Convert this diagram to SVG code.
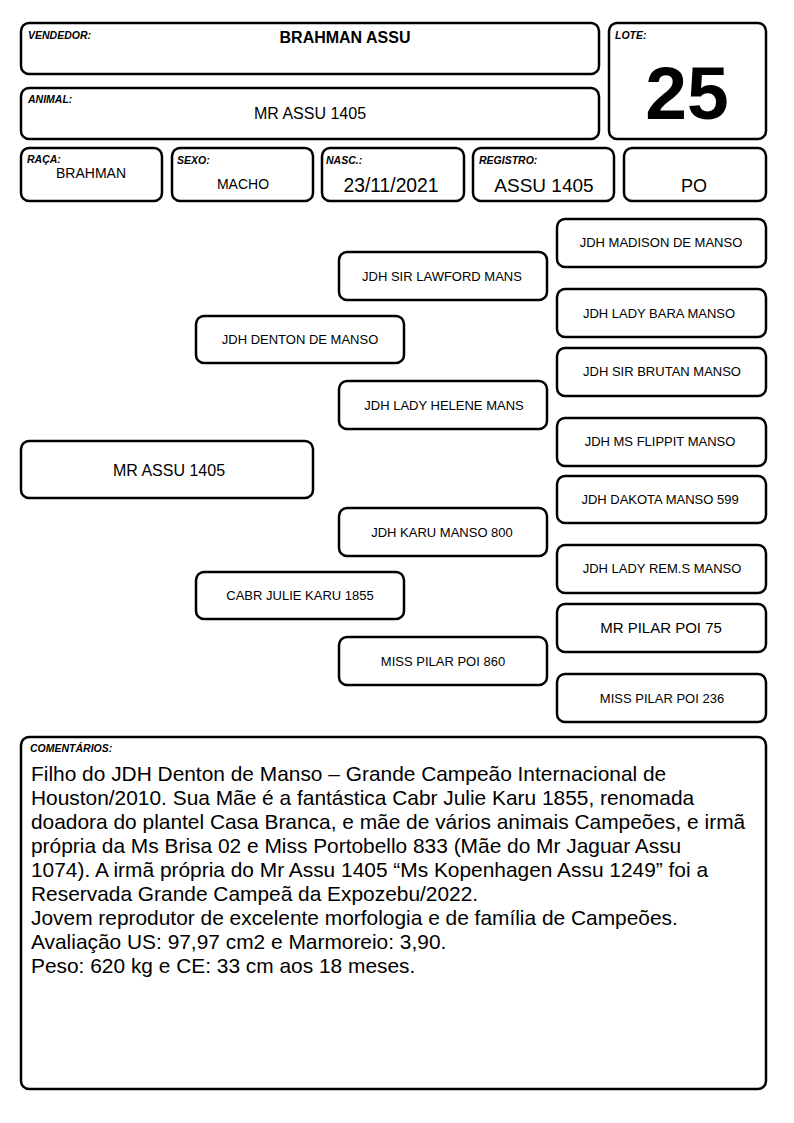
<svg xmlns="http://www.w3.org/2000/svg" width="794" height="1123" viewBox="0 0 794 1123">
<style>
.b{fill:#fff;stroke:#000;stroke-width:2.5}
text{font-family:"Liberation Sans",Arial,sans-serif;fill:#000}
.l{font-size:10.5px;font-weight:bold;font-style:italic}
.c{text-anchor:middle}
.p{font-size:13px;text-anchor:middle}
.m{font-size:20.9px}
</style>
<rect width="794" height="1123" fill="#fff"/>
<g id="vendedor"><rect class="b" x="21" y="23" width="578" height="51" rx="8"/><text class="l" x="28" y="39">VENDEDOR:</text><text class="c" x="345" y="43" style="font-size:16px;font-weight:bold">BRAHMAN ASSU</text></g>
<g id="lote"><rect class="b" x="609" y="23" width="157" height="116" rx="8"/><text class="l" x="615" y="39">LOTE:</text><text class="c" x="687" y="119" style="font-size:75px;font-weight:bold">25</text></g>
<g id="animal"><rect class="b" x="21" y="88" width="578" height="51" rx="8"/><text class="l" x="28" y="103">ANIMAL:</text><text class="c" x="310" y="119" style="font-size:16px">MR ASSU 1405</text></g>
<g id="raca"><rect class="b" x="21" y="148" width="141" height="53" rx="8"/><text class="l" x="27" y="163">RAÇA:</text><text class="c" x="91" y="178" style="font-size:14px">BRAHMAN</text></g>
<g id="sexo"><rect class="b" x="172" y="148" width="141" height="53" rx="8"/><text class="l" x="177" y="164">SEXO:</text><text class="c" x="243" y="189" style="font-size:14px">MACHO</text></g>
<g id="nasc"><rect class="b" x="322" y="148" width="142" height="53" rx="8"/><text class="l" x="326" y="164">NASC.:</text><text class="c" x="391" y="192" style="font-size:19.3px">23/11/2021</text></g>
<g id="registro"><rect class="b" x="473" y="148" width="141" height="53" rx="8"/><text class="l" x="479" y="164">REGISTRO:</text><text class="c" x="544" y="192" style="font-size:19px">ASSU 1405</text></g>
<g id="po"><rect class="b" x="624" y="148" width="142" height="53" rx="8"/><text class="c" x="694" y="192" style="font-size:18px">PO</text></g>
<g id="connectors"></g>
<g id="ped-animal"><rect class="b" x="21" y="441" width="292" height="57" rx="8"/><text class="c" x="169" y="476" style="font-size:16px">MR ASSU 1405</text></g>
<g id="ped-pai"><rect class="b" x="196" y="316" width="208" height="47" rx="8"/><text class="p" x="300" y="344">JDH DENTON DE MANSO</text></g>
<g id="ped-mae"><rect class="b" x="196" y="572" width="208" height="47" rx="8"/><text class="p" x="300" y="600">CABR JULIE KARU 1855</text></g>
<g id="ped-avo1"><rect class="b" x="339" y="252" width="208" height="48" rx="8"/><text class="p" x="442" y="281">JDH SIR LAWFORD MANS</text></g>
<g id="ped-avo2"><rect class="b" x="339" y="381" width="208" height="48" rx="8"/><text class="p" x="444" y="410">JDH LADY HELENE MANS</text></g>
<g id="ped-avo3"><rect class="b" x="339" y="508" width="208" height="48" rx="8"/><text class="p" x="442" y="537">JDH KARU MANSO 800</text></g>
<g id="ped-avo4"><rect class="b" x="339" y="637" width="208" height="48" rx="8"/><text class="p" x="443" y="666">MISS PILAR POI 860</text></g>
<g id="ped-b1"><rect class="b" x="557" y="219" width="209" height="48" rx="8"/><text class="p" x="661" y="247">JDH MADISON DE MANSO</text></g>
<g id="ped-b2"><rect class="b" x="557" y="289" width="209" height="48" rx="8"/><text class="p" x="659" y="318">JDH LADY BARA MANSO</text></g>
<g id="ped-b3"><rect class="b" x="557" y="348" width="209" height="48" rx="8"/><text class="p" x="662" y="376">JDH SIR BRUTAN MANSO</text></g>
<g id="ped-b4"><rect class="b" x="557" y="418" width="209" height="48" rx="8"/><text class="p" x="660" y="446">JDH MS FLIPPIT MANSO</text></g>
<g id="ped-b5"><rect class="b" x="557" y="476" width="209" height="47" rx="8"/><text class="p" x="660" y="504">JDH DAKOTA MANSO 599</text></g>
<g id="ped-b6"><rect class="b" x="557" y="545" width="209" height="48" rx="8"/><text class="p" x="662" y="573">JDH LADY REM.S MANSO</text></g>
<g id="ped-b7"><rect class="b" x="557" y="604" width="209" height="48" rx="8"/><text class="c" x="661" y="633" style="font-size:15px">MR PILAR POI 75</text></g>
<g id="ped-b8"><rect class="b" x="557" y="674" width="209" height="48" rx="8"/><text class="p" x="662" y="703">MISS PILAR POI 236</text></g>
<g id="comentarios"><rect class="b" x="21" y="737" width="745" height="352" rx="8"/><text class="l" x="30" y="752">COMENTÁRIOS:</text>
<text class="m" x="31" y="781">Filho do JDH Denton de Manso – Grande Campeão Internacional de</text>
<text class="m" x="31" y="805">Houston/2010. Sua Mãe é a fantástica Cabr Julie Karu 1855, renomada</text>
<text class="m" x="31" y="829">doadora do plantel Casa Branca, e mãe de vários animais Campeões, e irmã</text>
<text class="m" x="31" y="853">própria da Ms Brisa 02 e Miss Portobello 833 (Mãe do Mr Jaguar Assu</text>
<text class="m" x="31" y="877">1074). A irmã própria do Mr Assu 1405 “Ms Kopenhagen Assu 1249” foi a</text>
<text class="m" x="31" y="901">Reservada Grande Campeã da Expozebu/2022.</text>
<text class="m" x="31" y="925">Jovem reprodutor de excelente morfologia e de família de Campeões.</text>
<text class="m" x="31" y="949">Avaliação US: 97,97 cm2 e Marmoreio: 3,90.</text>
<text class="m" x="31" y="973">Peso: 620 kg e CE: 33 cm aos 18 meses.</text>
</g>
</svg>
